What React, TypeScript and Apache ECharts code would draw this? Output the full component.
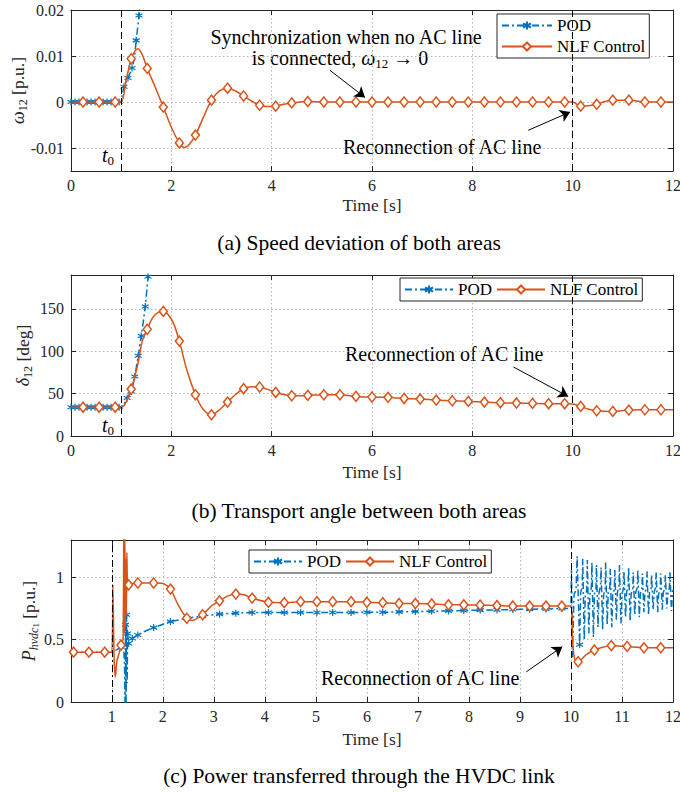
import React, { useEffect, useRef } from "react";
import * as echarts from "echarts";

const FONT = "Liberation Serif";
const BLUE = "#0072BD";
const ORANGE = "#D95319";
const AXIS = "#262626";
const GRIDC = "#b4b4b4";

// ---------- (a) speed deviation ω12 [p.u.] ----------
const speedTimeNLF = [0, 0.24, 0.56, 0.88, 1.0, 1.1, 1.2, 1.27, 1.335, 1.42, 1.52, 1.68, 1.84, 2.0, 2.16, 2.26, 2.36, 2.48, 2.64, 2.8, 2.96, 3.12, 3.28, 3.44, 3.6, 3.76, 3.92, 4.08, 4.24, 4.4, 4.72, 5.04, 5.36, 5.68, 6.0, 6.32, 6.64, 6.96, 7.28, 7.6, 7.92, 8.24, 8.56, 8.88, 9.2, 9.52, 9.84, 10.0, 10.16, 10.32, 10.48, 10.64, 10.8, 11.12, 11.44, 11.76, 12.0];
const speedNLF = [0, 0, 0, 0, 0, 0.0048, 0.0094, 0.011, 0.0116, 0.0103, 0.0073, 0.0032, -0.0011, -0.0055, -0.0089, -0.0099, -0.0092, -0.0072, -0.0033, 0.0004, 0.0024, 0.003, 0.0024, 0.0013, 0.0002, -0.0007, -0.001, -0.0009, -0.0005, -0.0002, 0.0001, 0, 0, 0, 0, 0, 0, 0, 0, 0, 0, 0, 0, 0, 0, 0, 0, 0, -0.0009, -0.0008, -0.0005, 0.0001, 0.0004, 0.0004, 0, 0, 0];
const speedMarksNLF = [0.24, 0.56, 0.88, 1.2, 1.52, 1.84, 2.16, 2.48, 2.8, 3.12, 3.44, 3.76, 4.08, 4.4, 4.72, 5.04, 5.36, 5.68, 6.0, 6.32, 6.64, 6.96, 7.28, 7.6, 7.92, 8.24, 8.56, 8.88, 9.2, 9.52, 9.84, 10.16, 10.48, 10.8, 11.12, 11.44, 11.76];
const speedTimePOD = [0, 0.08, 0.16, 0.24, 0.32, 0.4, 0.48, 0.56, 0.64, 0.72, 0.8, 0.88, 0.96, 1.0, 1.02, 1.056, 1.136, 1.216, 1.26, 1.3, 1.355, 1.4];
const speedPOD = [0, 0, 0, 0, 0, 0, 0, 0, 0, 0, 0, 0, 0, 0, 0.0013, 0.0033, 0.0052, 0.0074, 0.0095, 0.0134, 0.0188, 0.0245];
const speedMarksPOD = [0, 0.08, 0.16, 0.24, 0.32, 0.4, 0.48, 0.56, 0.64, 0.72, 0.8, 0.88, 0.96, 1.056, 1.136, 1.216, 1.3, 1.355];

// ---------- (b) transport angle δ12 [deg] ----------
const angleTimeNLF = [0, 0.24, 0.56, 0.88, 1.0, 1.08, 1.2, 1.28, 1.35, 1.42, 1.52, 1.63, 1.74, 1.84, 1.94, 2.05, 2.16, 2.3, 2.48, 2.64, 2.8, 2.96, 3.12, 3.28, 3.44, 3.6, 3.76, 3.92, 4.08, 4.24, 4.4, 4.72, 5.04, 5.36, 5.68, 6.0, 6.32, 6.64, 6.96, 7.28, 7.6, 7.92, 8.24, 8.56, 8.88, 9.2, 9.52, 9.84, 10.0, 10.16, 10.32, 10.48, 10.64, 10.8, 11.12, 11.44, 11.76, 12.0];
const angleNLF = [34, 34, 34, 34, 34, 38, 55.4, 72, 90, 112, 126, 140, 146, 147, 143, 132, 112, 80, 48.7, 31, 25, 31, 40, 49, 55.8, 58, 57.8, 55, 51.4, 49, 47.5, 47.9, 48.7, 48.7, 46.7, 46, 45.6, 44.3, 43.6, 42.4, 41.6, 40.8, 40, 39.3, 38.9, 38.5, 38.1, 38.1, 37.8, 34.9, 31.5, 29.8, 29.2, 29, 30.6, 31, 31, 31];
const angleMarksNLF = [0.24, 0.56, 0.88, 1.2, 1.52, 1.84, 2.16, 2.48, 2.8, 3.12, 3.44, 3.76, 4.08, 4.4, 4.72, 5.04, 5.36, 5.68, 6.0, 6.32, 6.64, 6.96, 7.28, 7.6, 7.92, 8.24, 8.56, 8.88, 9.2, 9.52, 9.84, 10.16, 10.48, 10.8, 11.12, 11.44, 11.76];
const angleTimePOD = [0, 0.08, 0.16, 0.24, 0.32, 0.4, 0.48, 0.56, 0.64, 0.72, 0.8, 0.88, 0.96, 1.0, 1.05, 1.12, 1.2, 1.27, 1.34, 1.4, 1.48, 1.535, 1.58];
const anglePOD = [34, 34, 34, 34, 34, 34, 34, 34, 34, 34, 34, 34, 34, 34, 37, 44.8, 52.6, 70.3, 94.7, 118, 152.8, 188, 222];
const angleMarksPOD = [0, 0.08, 0.16, 0.24, 0.32, 0.4, 0.48, 0.56, 0.64, 0.72, 0.8, 0.88, 0.96, 1.12, 1.2, 1.27, 1.34, 1.4, 1.48, 1.535];

// ---------- (c) HVDC power P_hvdc1 [p.u.] ----------
const powerTimeNLF = [0.2, 0.25, 0.55, 0.86, 1.0, 1.02, 1.045, 1.07, 1.1, 1.15, 1.18, 1.22, 1.235, 1.245, 1.255, 1.265, 1.275, 1.285, 1.295, 1.31, 1.33, 1.38, 1.51, 1.82, 2.0, 2.15, 2.3, 2.47, 2.58, 2.78, 2.95, 3.11, 3.27, 3.43, 3.59, 3.75, 4.07, 4.38, 4.7, 5.02, 5.33, 5.69, 6.0, 6.31, 6.63, 6.95, 7.27, 7.6, 7.9, 8.22, 8.55, 8.86, 9.19, 9.51, 9.82, 10.0, 10.03, 10.07, 10.14, 10.3, 10.46, 10.62, 10.79, 11.1, 11.43, 11.76, 12.0];
const powerNLF = [0.4, 0.4, 0.4, 0.4, 0.4, 0.94, 0.35, 0.2, 0.33, 0.4, 0.457, 0.5, 1.4, 0.55, 1.4, 0.6, 1.15, 0.7, 1.2, 0.9, 0.94, 0.95, 0.955, 0.955, 0.952, 0.906, 0.78, 0.672, 0.655, 0.7, 0.77, 0.812, 0.85, 0.866, 0.86, 0.834, 0.8, 0.797, 0.805, 0.805, 0.805, 0.805, 0.8, 0.797, 0.79, 0.79, 0.787, 0.78, 0.78, 0.777, 0.774, 0.77, 0.77, 0.77, 0.77, 0.77, 0.5, 0.35, 0.323, 0.38, 0.417, 0.44, 0.452, 0.446, 0.435, 0.435, 0.435];
const powerMarksNLF = [0.25, 0.55, 0.86, 1.18, 1.33, 1.51, 1.82, 2.15, 2.47, 2.78, 3.11, 3.43, 3.75, 4.07, 4.38, 4.7, 5.02, 5.33, 5.69, 6.0, 6.31, 6.63, 6.95, 7.27, 7.6, 7.9, 8.22, 8.55, 8.86, 9.19, 9.51, 9.82, 10.14, 10.46, 10.79, 11.1, 11.43, 11.76];
const powerTimePOD = [0.2, 0.25, 0.55, 0.86, 1.0, 1.02, 1.1, 1.18, 1.23, 1.25, 1.26, 1.27, 1.28, 1.29, 1.3, 1.31, 1.33, 1.4, 1.51, 1.66, 1.82, 2.15, 2.47, 2.78, 3.11, 3.43, 3.75, 4.07, 4.38, 4.7, 5.02, 5.33, 5.69, 6.0, 6.31, 6.63, 6.95, 7.27, 7.6, 7.9, 8.22, 8.55, 8.86, 9.19, 9.51, 9.82, 10.0,
  10.01, 10.03, 10.06, 10.1, 10.12, 10.17, 10.19, 10.22, 10.23, 10.26, 10.28, 10.31, 10.32, 10.35, 10.37, 10.4, 10.41, 10.44, 10.46, 10.49, 10.5, 10.53, 10.55, 10.58, 10.59, 10.62, 10.64, 10.67, 10.68, 10.71, 10.73, 10.76, 10.77, 10.8, 10.82, 10.85, 10.86, 10.89, 10.91, 10.94, 10.95, 10.98, 11.0, 11.03, 11.04, 11.07, 11.09, 11.12, 11.13, 11.16, 11.18, 11.21, 11.22, 11.25, 11.27, 11.3, 11.31, 11.34, 11.36, 11.39, 11.4, 11.43, 11.45, 11.48, 11.49, 11.52, 11.54, 11.57, 11.58, 11.61, 11.63, 11.66, 11.67, 11.7, 11.72, 11.75, 11.76, 11.79, 11.81, 11.84, 11.85, 11.88, 11.9, 11.93, 11.94, 11.97, 11.99, 12.0];
const powerPOD = [0.4, 0.4, 0.4, 0.4, 0.4, 0.41, 0.42, 0.44, 0.45, 0.3, -0.05, 0.62, -0.05, 0.7, 0.15, 0.55, 0.47, 0.51, 0.538, 0.57, 0.597, 0.645, 0.672, 0.69, 0.705, 0.713, 0.718, 0.718, 0.718, 0.718, 0.718, 0.718, 0.718, 0.72, 0.72, 0.723, 0.726, 0.728, 0.731, 0.734, 0.737, 0.739, 0.742, 0.745, 0.747, 0.75, 0.75,
  1.06, 0.36, 0.86, 0.9, 1.17, 0.46, 0.88, 0.92, 1.15, 0.5, 0.85, 0.9, 1.14, 0.55, 0.86, 0.92, 1.12, 0.52, 0.87, 0.9, 1.1, 0.6, 0.88, 0.93, 1.08, 0.58, 0.86, 0.91, 1.12, 0.62, 0.88, 0.92, 1.07, 0.6, 0.87, 0.9, 1.06, 0.66, 0.88, 0.93, 1.1, 0.63, 0.87, 0.91, 1.05, 0.68, 0.88, 0.92, 1.08, 0.65, 0.87, 0.9, 1.04, 0.7, 0.88, 0.92, 1.06, 0.68, 0.87, 0.91, 1.03, 0.72, 0.88, 0.92, 1.05, 0.7, 0.88, 0.91, 1.02, 0.74, 0.88, 0.92, 1.04, 0.72, 0.87, 0.9, 1.03, 0.74, 0.88, 0.91, 1.02, 0.75, 0.88, 0.92, 1.04, 0.73, 0.88, 0.9];
const powerMarksPOD = [0.25, 0.55, 0.86, 1.27, 1.29, 1.31, 1.33, 1.4, 1.51, 1.82, 2.15, 2.47, 2.78, 3.11, 3.43, 3.75, 4.07, 4.38, 4.7, 5.02, 5.33, 5.69, 6.0, 6.31, 6.63, 6.95, 7.27, 7.6, 7.9, 8.22, 8.55, 8.86, 9.19, 9.51, 9.82, 10.17];

// ---------- ticks, events, annotations ----------
const xTicksAB = [0, 2, 4, 6, 8, 10, 12];
const xTicksC = [1, 2, 3, 4, 5, 6, 7, 8, 9, 10, 11, 12];
const yTicksA = [-0.01, 0, 0.01, 0.02];
const yTicksB = [0, 50, 100, 150];
const yTicksC = [0, 0.5, 1];
const faultTime = 1;
const reconnectTime = 10;
const arrowSyncA = [[5.16, 0.0069], [5.86, 0.001]];
const arrowReconA = [[9.115, -0.00615], [9.95, -0.00217]];
const arrowReconB = [[8.82, 81.4], [9.91, 46.7]];
const arrowReconC = [[9.125, 0.242], [9.83, 0.444]];

const STAR = "path://M5,0L5,10M0.67,2.5L9.33,7.5M0.67,7.5L9.33,2.5";

function buildData(times: number[], values: number[], marks: number[]) {
  return times.map((t, i) => {
    const marked = marks.some((m) => Math.abs(m - t) < 1e-6);
    return marked ? { value: [t, values[i]] } : { value: [t, values[i]], symbol: "none" };
  });
}

const gridLine = { show: true, lineStyle: { color: GRIDC, type: [1.5, 2.5], width: 1 } };
const tickLabel = { fontFamily: FONT, fontSize: 16, color: AXIS };
const axisLine = { show: true, onZero: false, lineStyle: { color: AXIS, width: 1 } };

const subRich = {
  i: { fontFamily: FONT, fontStyle: "italic", fontSize: 18, lineHeight: 22, color: AXIS, fill: AXIS },
  s: { fontFamily: FONT, fontSize: 12, lineHeight: 13, verticalAlign: "bottom", color: AXIS, fill: AXIS },
  si: { fontFamily: FONT, fontStyle: "italic", fontSize: 12, lineHeight: 14, verticalAlign: "bottom", color: AXIS, fill: AXIS },
  ss: { fontFamily: FONT, fontSize: 9, lineHeight: 10, verticalAlign: "bottom", color: AXIS, fill: AXIS },
  n: { fontFamily: FONT, fontSize: 17.5, lineHeight: 22, color: AXIS, fill: AXIS },
};

function xAxisPair(gridIndex: number, min: number, max: number, ticks: number[], nameGap: number) {
  return [
    {
      type: "value", gridIndex, min, max, position: "bottom",
      name: "Time [s]", nameLocation: "middle", nameGap, nameMoveOverlap: false,
      nameTextStyle: { fontFamily: FONT, fontSize: 17.5, color: AXIS },
      axisLine,
      axisTick: { show: true, inside: true, length: 5, customValues: ticks, lineStyle: { color: AXIS } },
      axisLabel: { ...tickLabel, margin: 6, customValues: ticks },
      splitLine: gridLine,
    },
    {
      type: "value", gridIndex, min, max, position: "top",
      axisLine,
      axisTick: { show: true, inside: true, length: 5, customValues: ticks, lineStyle: { color: AXIS } },
      axisLabel: { show: false },
      splitLine: { show: false },
    },
  ];
}

function yAxisPair(gridIndex: number, min: number, max: number, ticks: number[], name: string, nameGap: number) {
  return [
    {
      type: "value", gridIndex, min, max, position: "left",
      name, nameLocation: "middle", nameGap, nameRotate: 90, nameMoveOverlap: false,
      nameTextStyle: { fontFamily: FONT, fontSize: 17.5, color: AXIS, rich: subRich },
      axisLine,
      axisTick: { show: true, inside: true, length: 5, customValues: ticks, lineStyle: { color: AXIS } },
      axisLabel: { ...tickLabel, margin: 7, customValues: ticks },
      splitLine: gridLine,
    },
    {
      type: "value", gridIndex, min, max, position: "right",
      axisLine,
      axisTick: { show: true, inside: true, length: 5, customValues: ticks, lineStyle: { color: AXIS } },
      axisLabel: { show: false },
      splitLine: { show: false },
    },
  ];
}

function podSeries(idx: number, data: any[], smooth: number | boolean) {
  return {
    type: "line", name: "POD", xAxisIndex: idx * 2, yAxisIndex: idx * 2,
    data, smooth, symbol: STAR, symbolSize: 7, z: 2,
    itemStyle: { color: BLUE, borderColor: BLUE, borderWidth: 1.2 },
    lineStyle: { color: BLUE, width: 1.5, type: [7, 3, 2, 3] },
    emphasis: { disabled: true },
  };
}

function vLine(t: number, type: number[]) {
  return { xAxis: t, lineStyle: { color: "#000", width: 1, type } };
}
function arrow(a: number[][]) {
  return [
    { coord: a[0], symbol: "none", lineStyle: { color: "#000", width: 1, type: "solid" } },
    { coord: a[1], symbol: "arrow", symbolSize: 10 },
  ];
}

function nlfSeries(idx: number, data: any[], smooth: number | boolean, marks: any[]) {
  return {
    type: "line", name: "NLF Control", xAxisIndex: idx * 2, yAxisIndex: idx * 2,
    data, smooth, symbol: "diamond", symbolSize: [8, 10], z: 3,
    itemStyle: { color: "#ffffff", borderColor: ORANGE, borderWidth: 1.5 },
    lineStyle: { color: ORANGE, width: 1.5 },
    emphasis: { disabled: true },
    markLine: {
      silent: true, symbol: ["none", "none"], label: { show: false },
      itemStyle: { color: "#000" },
      lineStyle: { color: "#000", width: 1 },
      emphasis: { disabled: true },
      data: marks,
    },
  };
}

const legendBase = {
  backgroundColor: "#fff", borderColor: AXIS, borderWidth: 1, borderRadius: 0,
  padding: [3, 4, 3, 4], itemGap: 4, itemWidth: 48, itemHeight: 10,
  selectedMode: false,
  textStyle: { fontFamily: FONT, fontSize: 17, color: "#000" },
  data: ["POD", "NLF Control"],
};

function txt(x: number, y: number, text: string, align: string, size: number, rich?: any) {
  return {
    type: "text", x, y, silent: true,
    style: {
      text, x: 0, y: 0, align, verticalAlign: "middle",
      fontFamily: FONT, fontSize: size, fill: "#000", rich,
    },
  };
}

const annRich = {
  i: { fontFamily: FONT, fontStyle: "italic", fontSize: 20, lineHeight: 24, fill: "#000", color: "#000" },
  s: { fontFamily: FONT, fontSize: 13, lineHeight: 14, verticalAlign: "bottom", fill: "#000", color: "#000" },
  n: { fontFamily: FONT, fontSize: 20, lineHeight: 24, fill: "#000", color: "#000" },
};

const option: any = {
  animation: false,
  backgroundColor: "#fff",
  textStyle: { fontFamily: FONT },
  grid: [
    { left: 71, right: 7, top: 10, height: 161, outerBoundsMode: "none", containLabel: false },
    { left: 71, right: 7, top: 275, height: 161, outerBoundsMode: "none", containLabel: false },
    { left: 71, right: 7, top: 540, height: 162, outerBoundsMode: "none", containLabel: false },
  ],
  xAxis: [
    ...xAxisPair(0, 0, 12, xTicksAB, 25),
    ...xAxisPair(1, 0, 12, xTicksAB, 27),
    ...xAxisPair(2, 0.2, 12, xTicksC, 28),
  ],
  yAxis: [
    ...yAxisPair(0, -0.015, 0.02, yTicksA, "{i|ω}{s|12} {n|[p.u.]}", 42),
    ...yAxisPair(1, 0, 190, yTicksB, "{i|δ}{s|12} {n|[deg]}", 37),
    ...yAxisPair(2, 0, 1.3, yTicksC, "{i|P}{si|hvdc}{ss|1} {n|[p.u.]}", 31),
  ],
  legend: [
    { ...legendBase, orient: "vertical", left: 497, top: 14, itemWidth: 50 },
    { ...legendBase, orient: "horizontal", left: 400, top: 278 },
    { ...legendBase, orient: "horizontal", left: 249, top: 550 },
  ],
  series: [
    podSeries(0, buildData(speedTimePOD, speedPOD, speedMarksPOD), 0.3),
    nlfSeries(0, buildData(speedTimeNLF, speedNLF, speedMarksNLF), 0.3, [
      vLine(faultTime, [7, 4]), vLine(reconnectTime, [7, 4]), arrow(arrowSyncA), arrow(arrowReconA),
    ]),
    podSeries(1, buildData(angleTimePOD, anglePOD, angleMarksPOD), 0.3),
    nlfSeries(1, buildData(angleTimeNLF, angleNLF, angleMarksNLF), 0.3, [
      vLine(faultTime, [7, 4]), vLine(reconnectTime, [7, 4]), arrow(arrowReconB),
    ]),
    podSeries(2, buildData(powerTimePOD, powerPOD, powerMarksPOD), false),
    nlfSeries(2, buildData(powerTimeNLF, powerNLF, powerMarksNLF), 0.25, [
      vLine(faultTime, [7, 3, 2, 3]), vLine(reconnectTime, [7, 4]), arrow(arrowReconC),
    ]),
  ],
  graphic: [
    txt(346, 37, "Synchronization when no AC line", "center", 20),
    txt(340, 58, "{n|is connected, }{i|ω}{s|12}{n| → 0}", "center", 20, annRich),
    txt(343, 147, "Reconnection of AC line", "left", 20),
    txt(102, 155, "{i|t}{s|0}", "left", 20, annRich),
    txt(345, 354, "Reconnection of AC line", "left", 20),
    txt(102, 425, "{i|t}{s|0}", "left", 20, annRich),
    txt(321, 678, "Reconnection of AC line", "left", 20),
    txt(359, 243, "(a) Speed deviation of both areas", "center", 21.5),
    txt(359, 511, "(b) Transport angle between both areas", "center", 21.5),
    txt(359, 776, "(c) Power transferred through the HVDC link", "center", 21.5),
  ],
};

const CSS = `#hvdc-chart text { font-family: "Liberation Serif", "Times New Roman", serif !important; }`;

export default function App() {
  const ref = useRef<HTMLDivElement>(null);
  useEffect(() => {
    if (!ref.current) return;
    const chart = echarts.init(ref.current, undefined, { renderer: "svg" });
    chart.setOption(option);
    return () => chart.dispose();
  }, []);
  return (
    <>
      <style>{CSS}</style>
      <div
        id="hvdc-chart"
        ref={ref}
        style={{ position: "fixed", left: 0, top: 0, width: 680, height: 792, background: "#fff" }}
      />
    </>
  );
}
